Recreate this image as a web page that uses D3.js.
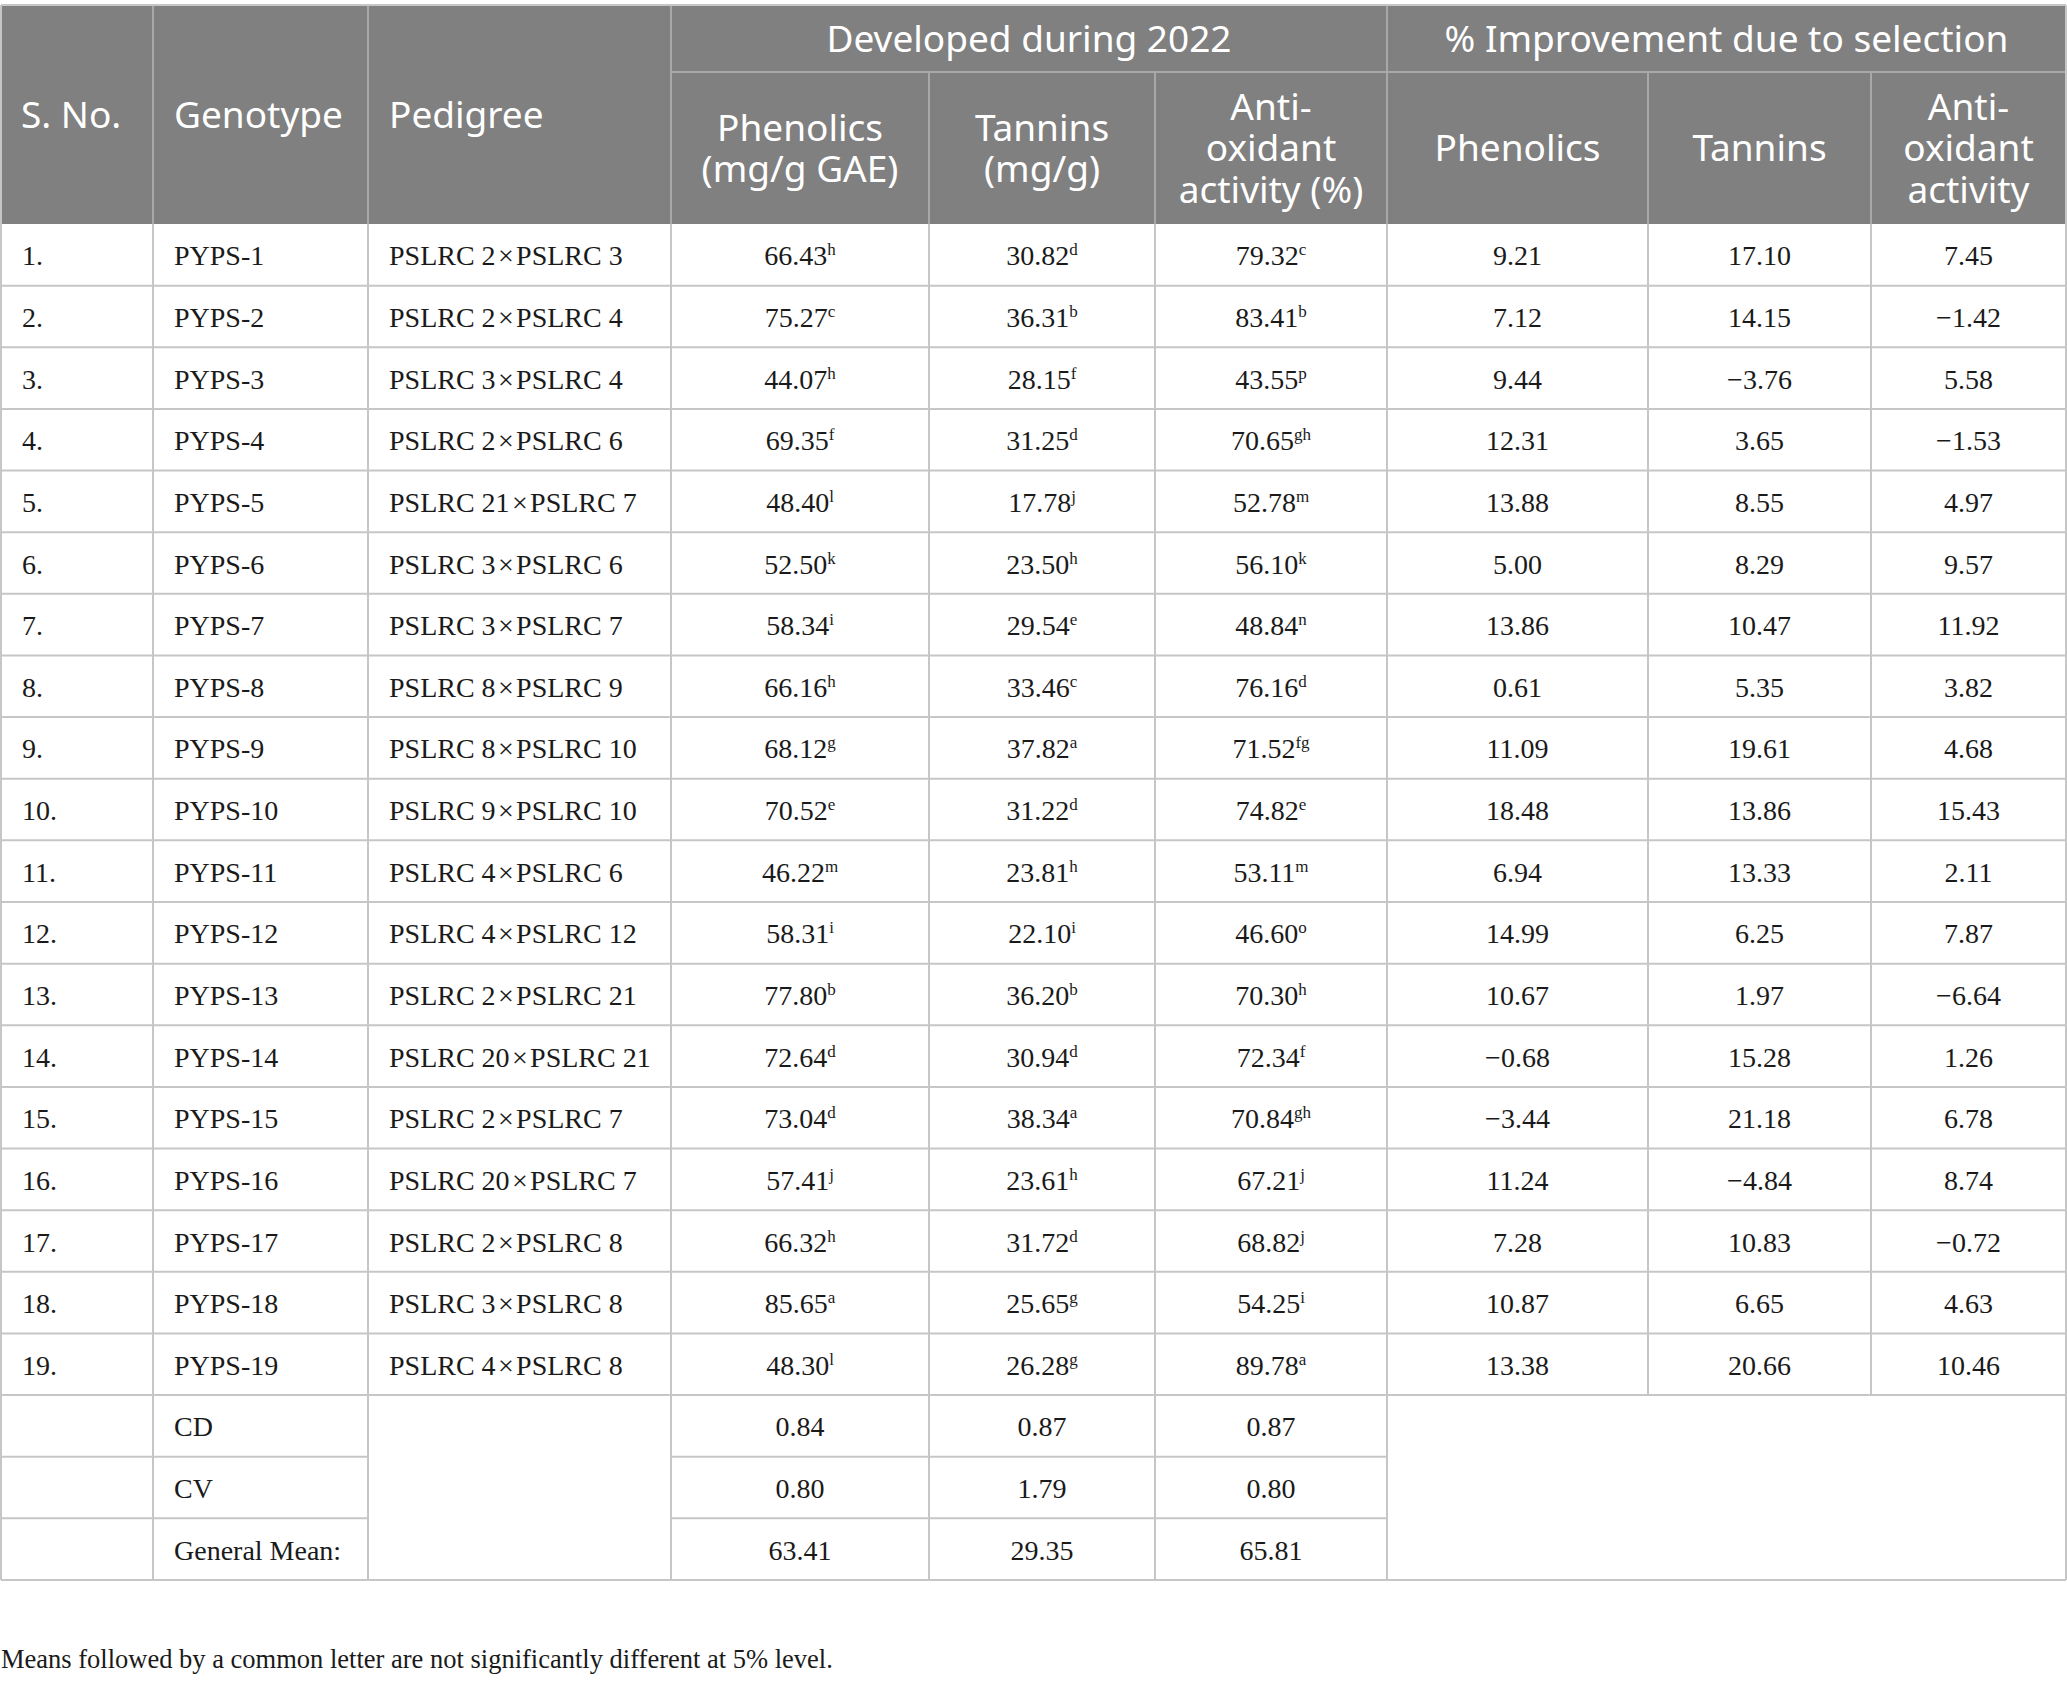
<!DOCTYPE html>
<html>
<head>
<meta charset="utf-8">
<script src="https://cdn.jsdelivr.net/npm/d3@7"></script>
<style>
  body { margin: 0; background: #fff; }
</style>
</head>
<body>
<div id="table"></div>
<script>
// table values
var sNo = ["1.","2.","3.","4.","5.","6.","7.","8.","9.","10.","11.","12.","13.","14.","15.","16.","17.","18.","19."];
var genotypes = ["PYPS-1","PYPS-2","PYPS-3","PYPS-4","PYPS-5","PYPS-6","PYPS-7","PYPS-8","PYPS-9","PYPS-10",
                 "PYPS-11","PYPS-12","PYPS-13","PYPS-14","PYPS-15","PYPS-16","PYPS-17","PYPS-18","PYPS-19"];
var pedigrees = [["2","3"],["2","4"],["3","4"],["2","6"],["21","7"],["3","6"],["3","7"],["8","9"],["8","10"],["9","10"],
                 ["4","6"],["4","12"],["2","21"],["20","21"],["2","7"],["20","7"],["2","8"],["3","8"],["4","8"]];
var phenolics = [66.43,75.27,44.07,69.35,48.40,52.50,58.34,66.16,68.12,70.52,46.22,58.31,77.80,72.64,73.04,57.41,66.32,85.65,48.30];
var phenolicsSig = ["h","c","h","f","l","k","i","h","g","e","m","i","b","d","d","j","h","a","l"];
var tannins = [30.82,36.31,28.15,31.25,17.78,23.50,29.54,33.46,37.82,31.22,23.81,22.10,36.20,30.94,38.34,23.61,31.72,25.65,26.28];
var tanninsSig = ["d","b","f","d","j","h","e","c","a","d","h","i","b","d","a","h","d","g","g"];
var antioxidant = [79.32,83.41,43.55,70.65,52.78,56.10,48.84,76.16,71.52,74.82,53.11,46.60,70.30,72.34,70.84,67.21,68.82,54.25,89.78];
var antioxidantSig = ["c","b","p","gh","m","k","n","d","fg","e","m","o","h","f","gh","j","j","i","a"];
var impPhenolics = [9.21,7.12,9.44,12.31,13.88,5.00,13.86,0.61,11.09,18.48,6.94,14.99,10.67,-0.68,-3.44,11.24,7.28,10.87,13.38];
var impTannins = [17.10,14.15,-3.76,3.65,8.55,8.29,10.47,5.35,19.61,13.86,13.33,6.25,1.97,15.28,21.18,-4.84,10.83,6.65,20.66];
var impAntioxidant = [7.45,-1.42,5.58,-1.53,4.97,9.57,11.92,3.82,4.68,15.43,2.11,7.87,-6.64,1.26,6.78,8.74,-0.72,4.63,10.46];
var summaryLabels = ["CD","CV","General Mean:"];
var summaryPhenolics = [0.84,0.80,63.41];
var summaryTannins = [0.87,1.79,29.35];
var summaryAntioxidant = [0.87,0.80,65.81];
var footnote = "Means followed by a common letter are not significantly different at 5% level.";

var width = 2067, height = 1682;
var colEdges = [1, 153, 368, 671, 929, 1155, 1387, 1648, 1871, 2066];
var headTop = 5, headMid = 72, headBottom = 224, tableBottom = 1580;
var gridColor = "#c6c6c6", headLine = "#a8a8a8", headFill = "#7f807f";
var serif = "'Liberation Serif', 'Times New Roman', serif";
var sans = "'Noto Sans', 'Open Sans', sans-serif";
var fmt = d3.format(".2f");

var svg = d3.select("#table").append("svg")
    .attr("width", width)
    .attr("height", height);

// column index -> x edge
var x = d3.scaleLinear().domain(d3.range(colEdges.length)).range(colEdges);
var rowKeys = sNo.concat(summaryLabels);
var y = d3.scaleBand().domain(rowKeys).range([headBottom, tableBottom]).paddingInner(0);
var rh = y.bandwidth();

//header block
svg.append("rect")
    .attr("x", x(0)).attr("y", headTop)
    .attr("width", x(9) - x(0)).attr("height", headBottom - headTop)
    .attr("fill", headFill);

var hl = svg.append("g").attr("stroke", headLine).attr("stroke-width", 2);
[1, 2, 3, 6].forEach(function(c) {
  hl.append("line").attr("x1", x(c)).attr("x2", x(c)).attr("y1", headTop).attr("y2", headBottom);
});
[4, 5, 7, 8].forEach(function(c) {
  hl.append("line").attr("x1", x(c)).attr("x2", x(c)).attr("y1", headMid).attr("y2", headBottom);
});
hl.append("line").attr("x1", x(3)).attr("x2", x(9)).attr("y1", headMid).attr("y2", headMid);

function headText(lines, cx, cy, anchor) {
  var lh = 41.5, fs = 37;
  var t = svg.append("text")
      .attr("font-family", sans).attr("font-size", fs)
      .attr("fill", "#fff").attr("text-anchor", anchor);
  lines.forEach(function(l, i) {
    t.append("tspan").attr("x", cx)
      .attr("y", cy - (lines.length - 1) * lh / 2 + i * lh + fs * 0.36)
      .text(l);
  });
}
var midTop = (headTop + headBottom) / 2, midLow = (headMid + headBottom) / 2;
headText(["S. No."], x(0) + 20, midTop, "start");
headText(["Genotype"], x(1) + 21, midTop, "start");
headText(["Pedigree"], x(2) + 21, midTop, "start");
headText(["Developed during 2022"], (x(3) + x(6)) / 2, (headTop + headMid) / 2, "middle");
headText(["% Improvement due to selection"], (x(6) + x(9)) / 2, (headTop + headMid) / 2, "middle");
headText(["Phenolics", "(mg/g GAE)"], (x(3) + x(4)) / 2, midLow, "middle");
headText(["Tannins", "(mg/g)"], (x(4) + x(5)) / 2, midLow, "middle");
headText(["Anti-", "oxidant", "activity (%)"], (x(5) + x(6)) / 2, midLow, "middle");
headText(["Phenolics"], (x(6) + x(7)) / 2, midLow, "middle");
headText(["Tannins"], (x(7) + x(8)) / 2, midLow, "middle");
headText(["Anti-", "oxidant", "activity"], (x(8) + x(9)) / 2, midLow, "middle");

// body grid
var g = svg.append("g").attr("stroke", gridColor).attr("stroke-width", 2).attr("fill", "none");
var lastData = y(sNo[sNo.length - 1]) + rh;
// horizontal lines of data rows
sNo.forEach(function(d) {
  g.append("line").attr("x1", x(0)).attr("x2", x(9)).attr("y1", y(d) + rh).attr("y2", y(d) + rh);
});
// summary rows: lines only in cols 0-1 and 3-5
summaryLabels.forEach(function(d) {
  var yy = y(d) + rh;
  g.append("line").attr("x1", x(0)).attr("x2", x(2)).attr("y1", yy).attr("y2", yy);
  g.append("line").attr("x1", x(3)).attr("x2", x(6)).attr("y1", yy).attr("y2", yy);
});
g.append("line").attr("x1", x(2)).attr("x2", x(3)).attr("y1", tableBottom).attr("y2", tableBottom);
g.append("line").attr("x1", x(6)).attr("x2", x(9)).attr("y1", tableBottom).attr("y2", tableBottom);
// verticals
d3.range(10).forEach(function(c) {
  var yEnd = (c === 7 || c === 8) ? lastData : tableBottom;
  g.append("line").attr("x1", x(c)).attr("x2", x(c)).attr("y1", headBottom).attr("y2", yEnd);
});
// top border
svg.append("line").attr("x1", x(0)).attr("x2", x(9)).attr("y1", headTop).attr("y2", headTop)
    .attr("stroke", gridColor).attr("stroke-width", 2);
svg.append("line").attr("x1", x(0)).attr("x2", x(0)).attr("y1", headTop).attr("y2", headBottom)
    .attr("stroke", gridColor).attr("stroke-width", 2);
svg.append("line").attr("x1", x(9)).attr("x2", x(9)).attr("y1", headTop).attr("y2", headBottom)
    .attr("stroke", gridColor).attr("stroke-width", 2);

var body = svg.append("g")
    .attr("font-family", serif).attr("font-size", 28).attr("fill", "#1a1a1a");

function cellText(rowKey, c, str, sup, align) {
  var cx = align === "start" ? x(c) + 21 : (x(c) + x(c + 1)) / 2;
  var t = body.append("text")
      .attr("x", cx).attr("y", y(rowKey) + rh / 2 + 10.5)
      .attr("text-anchor", align || "middle");
  t.append("tspan").text(str);
  if (sup) {
    t.append("tspan").attr("font-size", 17).attr("dy", -10).text(sup);
  }
}

sNo.forEach(function(k, i) {
  cellText(k, 0, k, null, "start");
  cellText(k, 1, genotypes[i], null, "start");
  cellText(k, 2, "PSLRC " + pedigrees[i][0] + "\u200a\u00d7\u200aPSLRC " + pedigrees[i][1], null, "start");
  cellText(k, 3, fmt(phenolics[i]), phenolicsSig[i]);
  cellText(k, 4, fmt(tannins[i]), tanninsSig[i]);
  cellText(k, 5, fmt(antioxidant[i]), antioxidantSig[i]);
  cellText(k, 6, fmt(impPhenolics[i]));
  cellText(k, 7, fmt(impTannins[i]));
  cellText(k, 8, fmt(impAntioxidant[i]));
});
summaryLabels.forEach(function(k, i) {
  cellText(k, 1, k, null, "start");
  cellText(k, 3, fmt(summaryPhenolics[i]));
  cellText(k, 4, fmt(summaryTannins[i]));
  cellText(k, 5, fmt(summaryAntioxidant[i]));
});

svg.append("text")
    .attr("x", 1).attr("y", 1668)
    .attr("font-family", serif).attr("font-size", 26.5).attr("fill", "#1a1a1a")
    .text(footnote);
</script>
</body>
</html>
